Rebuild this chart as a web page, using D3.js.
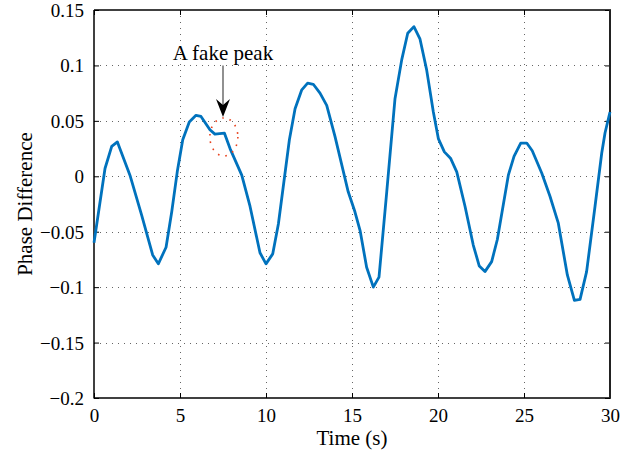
<!DOCTYPE html>
<html>
<head>
<meta charset="utf-8">
<script src="https://cdn.jsdelivr.net/npm/d3@7"></script>
<style>
  html, body { margin: 0; padding: 0; background: #fff; }
  svg { display: block; }
  svg text { font-family: "Liberation Serif", "Times New Roman", Times, "DejaVu Serif", serif !important; fill: #000; }
</style>
</head>
<body>
<svg id="chart" width="641" height="455"></svg>
<script>
// ---- data ----
const times = [0, 0.64, 1.03, 1.36, 2.09, 2.77, 3.41, 3.74, 4.19, 4.52, 4.84, 5.16, 5.54, 5.93, 6.22, 6.74, 7.03, 7.58, 7.91, 8.59, 9.07, 9.65, 10.0, 10.39, 10.72, 11.36, 11.69, 12.08, 12.42, 12.75, 13.14, 13.53, 14.01, 14.78, 15.17, 15.47, 15.85, 16.24, 16.57, 17.02, 17.50, 17.89, 18.24, 18.60, 18.95, 19.34, 19.73, 20.02, 20.37, 20.74, 21.09, 21.57, 22.05, 22.40, 22.73, 23.12, 23.45, 24.09, 24.42, 24.81, 25.16, 25.48, 26.03, 26.51, 26.99, 27.52, 27.93, 28.26, 28.64, 29.13, 29.52, 29.71, 30.0];
const phaseDiff = [-0.060, 0.007, 0.027, 0.031, 0.001, -0.035, -0.071, -0.079, -0.064, -0.032, 0.004, 0.033, 0.049, 0.055, 0.054, 0.042, 0.038, 0.039, 0.025, 0.001, -0.027, -0.069, -0.079, -0.070, -0.043, 0.033, 0.061, 0.078, 0.084, 0.083, 0.075, 0.064, 0.036, -0.014, -0.032, -0.049, -0.082, -0.100, -0.091, -0.014, 0.070, 0.105, 0.129, 0.135, 0.124, 0.096, 0.058, 0.034, 0.022, 0.016, 0.004, -0.027, -0.062, -0.081, -0.086, -0.077, -0.057, 0.001, 0.018, 0.030, 0.030, 0.023, 0.003, -0.018, -0.042, -0.089, -0.112, -0.111, -0.086, -0.027, 0.021, 0.039, 0.058];
const xTicks = [0, 5, 10, 15, 20, 25, 30];
const yTicks = [-0.2, -0.15, -0.1, -0.05, 0, 0.05, 0.1, 0.15];
const xLabel = "Time (s)";
const yLabel = "Phase Difference";
const annotationText = "A fake peak";
const annotationPoint = [7.5, 0.0535];   // arrow tip (time, value)
const annotationLabel = [7.5, 0.105];    // label anchor
const annotationTail = [7.5, 0.1];       // arrow tail
const fakePeakCenter = [7.55, 0.0355];   // circled region

// ---- layout ----
const svg = d3.select("#chart");
const L = 94, R = 610, T = 10, B = 398;
const x = d3.scaleLinear().domain([0, 30]).range([L, R]);
const y = d3.scaleLinear().domain([-0.2, 0.15]).range([B, T]);
const fmt = v => (v < 0 ? "\u2212" : "") + String(Math.abs(v));
const serif = '"Liberation Serif", "Times New Roman", Times, "DejaVu Serif", serif';

// grid
const grid = svg.append("g").attr("stroke", "#666").attr("stroke-width", 1).attr("stroke-dasharray", "1,5");
xTicks.slice(1, -1).forEach(t => {
  grid.append("line").attr("x1", x(t) + 0.5).attr("x2", x(t) + 0.5).attr("y1", T).attr("y2", B);
});
yTicks.slice(1, -1).forEach(t => {
  grid.append("line").attr("y1", Math.round(y(t)) + 0.5).attr("y2", Math.round(y(t)) + 0.5).attr("x1", L).attr("x2", R);
});

// axes (ticks inward)
const tickLen = 5;
const gx = svg.append("g").attr("transform", `translate(0,${B})`)
  .call(d3.axisBottom(x).tickValues(xTicks).tickSize(-tickLen).tickPadding(10).tickFormat(d3.format("d")));
const gxTop = svg.append("g").attr("transform", `translate(0,${T})`)
  .call(d3.axisTop(x).tickValues(xTicks).tickSize(-tickLen).tickFormat(""));
const gy = svg.append("g").attr("transform", `translate(${L},0)`)
  .call(d3.axisLeft(y).tickValues(yTicks).tickSize(-tickLen).tickPadding(10).tickFormat(fmt));
const gyR = svg.append("g").attr("transform", `translate(${R},0)`)
  .call(d3.axisRight(y).tickValues(yTicks).tickSize(-tickLen).tickFormat(""));
[gx, gxTop, gy, gyR].forEach(g => {
  g.attr("font-family", serif).attr("font-size", 19);
  g.select(".domain").remove();
  g.selectAll(".tick line").attr("stroke", "#000");
  g.selectAll("text").attr("fill", "#000");
});
gx.selectAll("text").attr("dy", "0.75em");
gy.selectAll("text").attr("dy", "0.34em");

// box
svg.append("line").attr("x1", L).attr("x2", L).attr("y1", T).attr("y2", B + 0.5).attr("stroke", "#000").attr("stroke-width", 1.5);
svg.append("line").attr("x1", L).attr("x2", R + 1).attr("y1", B).attr("y2", B).attr("stroke", "#000").attr("stroke-width", 1.5);
svg.append("line").attr("x1", L).attr("x2", R + 1).attr("y1", T).attr("y2", T).attr("stroke", "#000").attr("stroke-width", 1.3);
svg.append("line").attr("x1", R).attr("x2", R).attr("y1", T).attr("y2", B).attr("stroke", "#222").attr("stroke-width", 2);

// data line
const data = times.map((t, i) => [t, phaseDiff[i]]);
svg.append("path")
  .datum(data)
  .attr("fill", "none")
  .attr("stroke", "#0072BD")
  .attr("stroke-width", 2.8)
  .attr("stroke-linejoin", "round")
  .attr("d", d3.line().x(d => x(d[0])).y(d => y(d[1])));

// fake peak ellipse
svg.append("ellipse")
  .attr("cx", x(fakePeakCenter[0])).attr("cy", y(fakePeakCenter[1]))
  .attr("rx", 14).attr("ry", 19)
  .attr("fill", "none").attr("stroke", "#e8401c").attr("stroke-width", 1.6)
  .attr("stroke-dasharray", "1.6,6");

// arrow
const ax = x(annotationPoint[0]);
const tipY = y(annotationPoint[1]);
svg.append("line").attr("x1", ax).attr("x2", ax).attr("y1", y(annotationTail[1])).attr("y2", tipY - 10)
  .attr("stroke", "#555").attr("stroke-width", 1.3);
svg.append("path")
  .attr("d", `M${ax},${tipY} L${ax - 7},${tipY - 18} L${ax},${tipY - 12} L${ax + 7},${tipY - 18} Z`)
  .attr("fill", "#000");
svg.append("text")
  .attr("x", x(annotationLabel[0])).attr("y", y(annotationLabel[1]))
  .attr("text-anchor", "middle").attr("font-family", serif).attr("font-size", 21)
  .text(annotationText);

// axis labels
svg.append("text").attr("x", (L + R) / 2).attr("y", 445).attr("text-anchor", "middle")
  .attr("font-family", serif).attr("font-size", 21).text(xLabel);
svg.append("text").attr("transform", `translate(32,${(T + B) / 2}) rotate(-90)`).attr("text-anchor", "middle")
  .attr("font-family", serif).attr("font-size", 21).text(yLabel);
</script>
</body>
</html>
